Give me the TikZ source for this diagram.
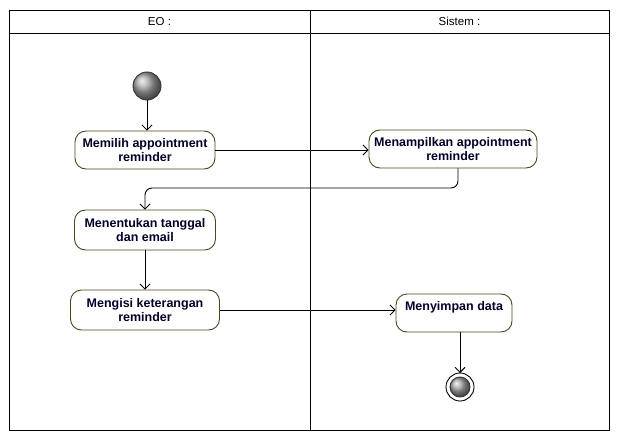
\documentclass[tikz,border=0pt]{standalone}
\usepackage{fontspec}
\setmainfont{Liberation Sans}
\usetikzlibrary{arrows.meta, positioning, calc}
\usepackage{xcolor}
\definecolor{actline}{RGB}{60,78,30}
\definecolor{acttext}{RGB}{0,0,40}

\begin{document}
\begin{tikzpicture}[x=1pt, y=-1pt, line width=0.9pt,
    action/.style={draw=actline, fill=white, rounded corners=11pt, align=center,
      font=\fontsize{12.5}{14}\selectfont\bfseries, text=acttext, inner sep=2pt},
    flow/.style={draw, -{Straight Barb[length=5pt, width=10pt]}},
    swimhead/.style={font=\fontsize{11.5}{13}\selectfont}]
  \useasboundingbox (0,0) rectangle (620,441);
  \draw (9,10) rectangle (609,430);
  \draw (9,33) -- (609,33);
  \draw (310,10) -- (310,430);
  \node[swimhead] (EOLane) at (159.5,21.5) {EO :};
  \node[swimhead] (SistemLane) at (459.5,21.5) {Sistem :};

  \shade[ball color=gray!70, draw=black!80] (147,86) circle (14);
  \coordinate (Start) at (147,86);
  \node[action, minimum width=140, minimum height=38] (Memilih) at (145,150)
    {Memilih appointment\\reminder};
  \node[action, minimum width=168, minimum height=38] (Menampilkan) at (453,149)
    {Menampilkan appointment\\reminder};
  \node[action, minimum width=141, minimum height=40] (Menentukan) at (145,230)
    {Menentukan tanggal\\dan email};
  \node[action, minimum width=149, minimum height=40] (Mengisi) at (145,310)
    {Mengisi keterangan\\reminder};
  \node[action, minimum width=116, minimum height=38] (Menyimpan) at (454,313)
    {Menyimpan data\\\mbox{}};
  \draw[fill=white] (460,387) circle (14);
  \shade[ball color=gray!70, draw=black!80] (460,387) circle (10);
  \coordinate (End) at (460,387);
  \coordinate (Bend) at (300,188);

  \draw[flow] ([yshift=-14pt]Start) -- (Start |- Memilih.north);
  \draw[flow] (Memilih.east) -- (Memilih.east -| Menampilkan.west);
  \draw[flow, rounded corners=7pt] ([xshift=5pt]Menampilkan.south) |- (Bend) -| (Menentukan.north);
  \draw[flow] (Menentukan.south) -- (Mengisi.north);
  \draw[flow] (Mengisi.east) -- (Mengisi.east -| Menyimpan.west);
  \draw[flow] (End |- Menyimpan.south) -- ([yshift=14pt]End);
\end{tikzpicture}
\end{document}
